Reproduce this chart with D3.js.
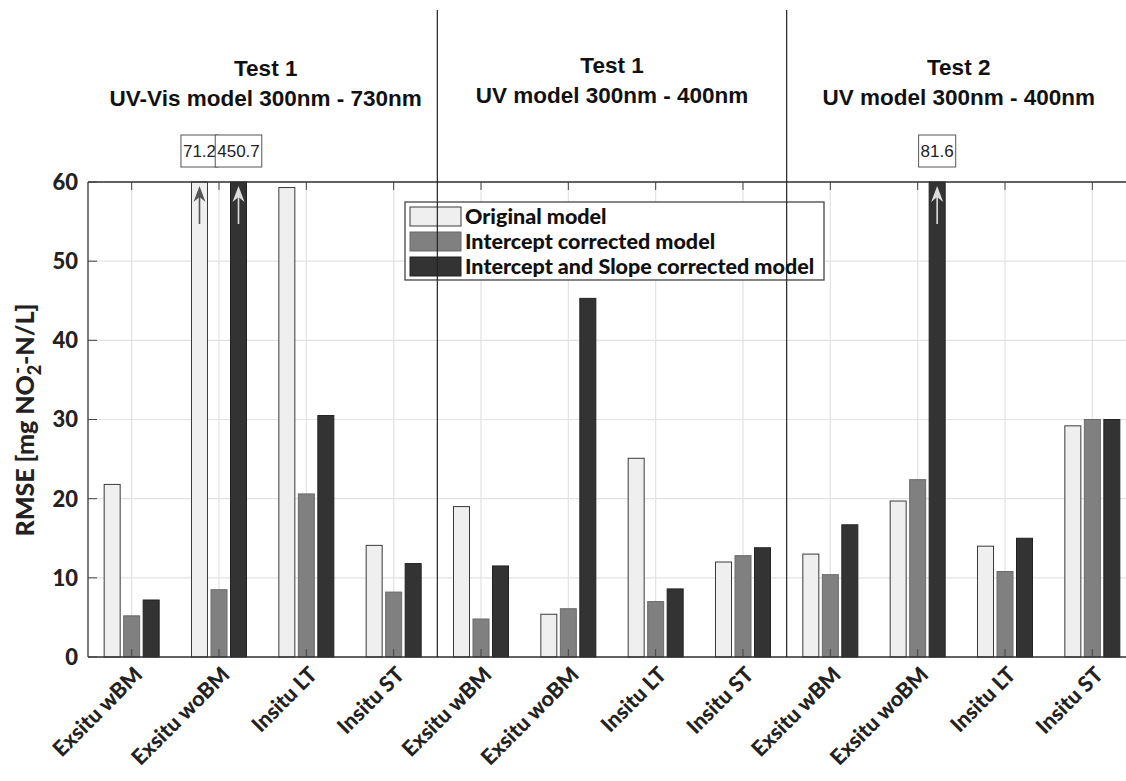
<!DOCTYPE html>
<html>
<head>
    <title>RMSE per model</title>
    <script src="https://cdnjs.cloudflare.com/ajax/libs/d3/7.8.5/d3.min.js"></script>
    <style>
        body { margin: 0; background: #fff; }
        svg { display: block; }
    </style>
</head>
<body>
    <div id="chart"></div>

    <script>
        // data
        var categories = ["Exsitu wBM", "Exsitu woBM", "Insitu LT", "Insitu ST",
                          "Exsitu wBM", "Exsitu woBM", "Insitu LT", "Insitu ST",
                          "Exsitu wBM", "Exsitu woBM", "Insitu LT", "Insitu ST"];
        var seriesNames = ["Original model", "Intercept corrected model", "Intercept and Slope corrected model"];
        var originalModel = [21.8, 71.2, 59.3, 14.1, 19.0, 5.4, 25.1, 12.0, 13.0, 19.7, 14.0, 29.2];
        var interceptModel = [5.2, 8.5, 20.6, 8.2, 4.8, 6.1, 7.0, 12.8, 10.4, 22.4, 10.8, 30.0];
        var slopeModel = [7.2, 450.7, 30.5, 11.8, 11.5, 45.3, 8.6, 13.8, 16.7, 81.6, 15.0, 30.0];
        var sectionTitles = [["Test 1", "UV-Vis model 300nm - 730nm"],
                             ["Test 1", "UV model 300nm - 400nm"],
                             ["Test 2", "UV model 300nm - 400nm"]];
        var yTicks = [0, 10, 20, 30, 40, 50, 60];
        var yMax = 60;

        var width = 1126, height = 781;
        var plot = { left: 88, top: 182, bottom: 657, right: 1136 };
        var colors = ["#efefef", "#808080", "#333333"];
        var strokes = ["#3a3a3a", "#6a6a6a", "#222222"];
        var arrowColors = ["#555555", "#dddddd", "#dddddd"];
        var barOffsets = [-19.5, 0, 19.5];
        var barWidth = 16;
        var labelFont = "Lato, 'Open Sans', sans-serif";
        var titleFont = "'Liberation Sans', Arial, sans-serif";

        var series = [originalModel, interceptModel, slopeModel];

        var svg = d3.select("#chart").append("svg")
            .attr("width", width)
            .attr("height", height);

        var x = d3.scaleLinear().domain([0.5, categories.length + 0.5]).range([plot.left, plot.right]);
        var y = d3.scaleLinear().domain([0, yMax]).range([plot.bottom, plot.top]);

        // grid
        var grid = svg.append("g");
        for (var t = 0; t < yTicks.length; t++) {
            grid.append("line")
                .attr("x1", plot.left).attr("x2", width)
                .attr("y1", y(yTicks[t])).attr("y2", y(yTicks[t]))
                .attr("stroke", "#e2e2e2").attr("stroke-width", 1.2);
        }
        for (var c = 0; c < categories.length; c++) {
            grid.append("line")
                .attr("x1", x(c + 1)).attr("x2", x(c + 1))
                .attr("y1", plot.top).attr("y2", plot.bottom)
                .attr("stroke", "#e2e2e2").attr("stroke-width", 1.2);
        }

        // bars
        var bars = svg.append("g");
        for (var s = 0; s < series.length; s++) {
            for (var i = 0; i < categories.length; i++) {
                var v = series[s][i];
                var shown = Math.min(v, yMax);
                var cx = x(i + 1) + barOffsets[s];
                bars.append("rect")
                    .attr("x", cx - barWidth / 2)
                    .attr("y", y(shown))
                    .attr("width", barWidth)
                    .attr("height", y(0) - y(shown))
                    .attr("fill", colors[s])
                    .attr("stroke", strokes[s])
                    .attr("stroke-width", 1);

                if (v > yMax) {
                    // arrow for values off the scale
                    bars.append("line")
                        .attr("x1", cx).attr("x2", cx)
                        .attr("y1", y(yMax) + 42).attr("y2", y(yMax) + 12)
                        .attr("stroke", arrowColors[s]).attr("stroke-width", 1.6);
                    bars.append("path")
                        .attr("d", "M" + cx + "," + (y(yMax) + 4) + " L" + (cx - 6) + "," + (y(yMax) + 20) +
                            " L" + cx + "," + (y(yMax) + 15) + " L" + (cx + 6) + "," + (y(yMax) + 20) + " Z")
                        .attr("fill", arrowColors[s]);

                    var box = svg.append("g");
                    var txt = box.append("text")
                        .attr("x", cx).attr("y", 157)
                        .attr("text-anchor", "middle")
                        .style("font-family", "'Liberation Sans', Arial, sans-serif")
                        .style("font-size", "17px")
                        .attr("fill", "#222")
                        .text(v.toFixed(1));
                    var bb = txt.node().getBBox();
                    box.insert("rect", "text")
                        .attr("x", bb.x - 2).attr("y", 135)
                        .attr("width", bb.width + 4).attr("height", 32)
                        .attr("fill", "#fff").attr("stroke", "#555").attr("stroke-width", 1);
                }
            }
        }

        // axes frame
        var axisG = svg.append("g");
        axisG.append("line").attr("x1", plot.left).attr("x2", width)
            .attr("y1", plot.bottom).attr("y2", plot.bottom).attr("stroke", "#333").attr("stroke-width", 1.3);
        axisG.append("line").attr("x1", plot.left).attr("x2", width)
            .attr("y1", plot.top).attr("y2", plot.top).attr("stroke", "#333").attr("stroke-width", 1.3);
        axisG.append("line").attr("x1", plot.left).attr("x2", plot.left)
            .attr("y1", plot.top).attr("y2", plot.bottom).attr("stroke", "#333").attr("stroke-width", 1.3);

        for (var k = 0; k < categories.length; k++) {
            axisG.append("line").attr("x1", x(k + 1)).attr("x2", x(k + 1))
                .attr("y1", plot.bottom).attr("y2", plot.bottom - 8).attr("stroke", "#444");
            axisG.append("line").attr("x1", x(k + 1)).attr("x2", x(k + 1))
                .attr("y1", plot.top).attr("y2", plot.top + 8).attr("stroke", "#444");
            axisG.append("text")
                .attr("transform", "translate(" + (x(k + 1) + 12) + "," + (plot.bottom + 19) + ") rotate(-45)")
                .attr("text-anchor", "end")
                .style("font-family", labelFont)
                .style("font-weight", "900")
                .style("font-size", "21.5px")
                .attr("fill", "#222")
                .text(categories[k]);
        }

        for (var m = 0; m < yTicks.length; m++) {
            axisG.append("line").attr("x1", plot.left).attr("x2", plot.left + 9)
                .attr("y1", y(yTicks[m])).attr("y2", y(yTicks[m])).attr("stroke", "#444");
            axisG.append("text")
                .attr("x", plot.left - 10).attr("y", y(yTicks[m]))
                .attr("dy", "0.36em")
                .attr("text-anchor", "end")
                .style("font-family", labelFont)
                .style("font-weight", "900")
                .style("font-size", "22px")
                .attr("fill", "#222")
                .text(yTicks[m]);
        }

        // y label with NO2- subscript/superscript
        var yLab = svg.append("text")
            .attr("transform", "translate(34,420) rotate(-90)")
            .attr("text-anchor", "middle")
            .style("font-family", labelFont)
            .style("font-weight", "900")
            .style("font-size", "25px")
            .attr("fill", "#222");
        yLab.append("tspan").text("RMSE [mg NO");
        yLab.append("tspan").attr("dy", 7).style("font-size", "18px").text("2");
        yLab.append("tspan").attr("dy", -17).attr("dx", -9).style("font-size", "18px").text("-");
        yLab.append("tspan").attr("dy", 10).attr("dx", 2).text("-N/L]");

        // section dividers and titles
        var dividers = [4.5, 8.5];
        for (var d = 0; d < dividers.length; d++) {
            svg.append("line")
                .attr("x1", x(dividers[d])).attr("x2", x(dividers[d]))
                .attr("y1", 10).attr("y2", plot.bottom)
                .attr("stroke", "#222").attr("stroke-width", 1.2);
        }
        var titleCenters = [2.535, 6.5, 10.47];
        var titleBase = [76, 73, 75];
        for (var g = 0; g < sectionTitles.length; g++) {
            for (var ln = 0; ln < 2; ln++) {
                svg.append("text")
                    .attr("x", x(titleCenters[g]))
                    .attr("y", titleBase[g] + ln * 30)
                    .attr("text-anchor", "middle")
                    .style("font-family", titleFont)
                    .style("font-weight", "bold")
                    .style("font-size", "22.5px")
                    .attr("fill", "#111")
                    .text(sectionTitles[g][ln]);
            }
        }

        // legend
        var legend = svg.append("g").attr("transform", "translate(405,202)");
        legend.append("rect")
            .attr("width", 419).attr("height", 78)
            .attr("fill", "#fff").attr("stroke", "#444").attr("stroke-width", 1.3);
        for (var l = 0; l < seriesNames.length; l++) {
            var row = legend.append("g").attr("transform", "translate(5," + (5 + l * 25) + ")");
            row.append("rect")
                .attr("width", 51).attr("height", 19)
                .attr("fill", colors[l]).attr("stroke", strokes[l]).attr("stroke-width", 1);
            row.append("text")
                .attr("x", 55).attr("y", 17)
                .style("font-family", labelFont)
                .style("font-weight", "900")
                .style("font-size", "21.5px")
                .attr("fill", "#111")
                .text(seriesNames[l]);
        }
        // the dividers show through the legend in the original
        for (var d2 = 0; d2 < dividers.length; d2++) {
            svg.append("line")
                .attr("x1", x(dividers[d2])).attr("x2", x(dividers[d2]))
                .attr("y1", 202).attr("y2", 280)
                .attr("stroke", "#222").attr("stroke-width", 1.2);
        }
    </script>
</body>
</html>
